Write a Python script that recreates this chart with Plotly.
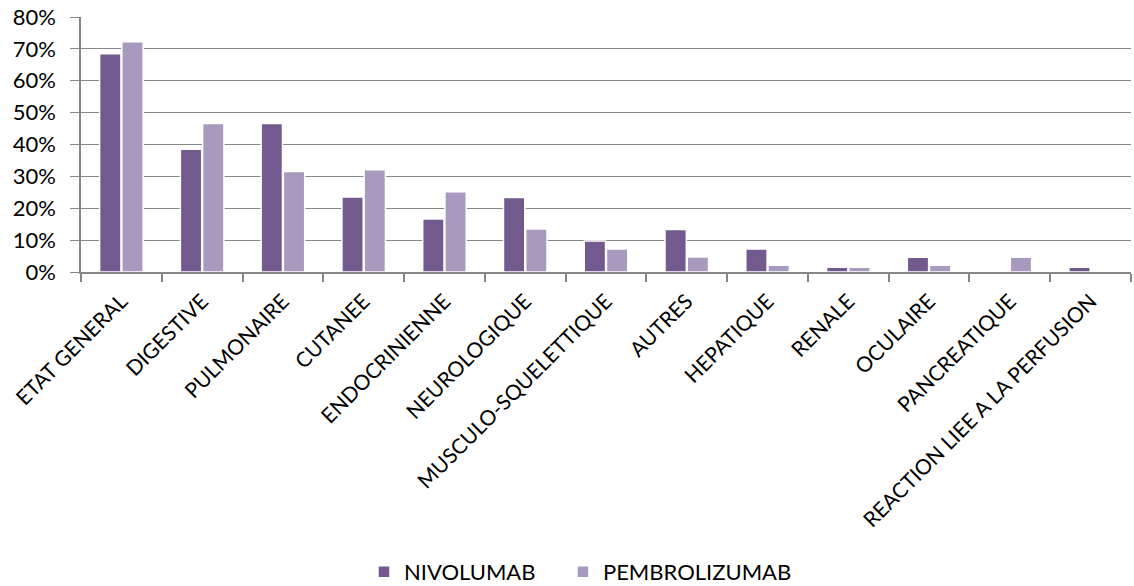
import plotly.graph_objects as go

categories = ["ETAT GENERAL", "DIGESTIVE", "PULMONAIRE", "CUTANEE", "ENDOCRINIENNE",
              "NEUROLOGIQUE", "MUSCULO-SQUELETTIQUE", "AUTRES", "HEPATIQUE", "RENALE",
              "OCULAIRE", "PANCREATIQUE", "REACTION LIEE A LA PERFUSION"]
nivolumab = [0.685, 0.385, 0.466, 0.235, 0.166, 0.234, 0.097, 0.133, 0.072, 0.015, 0.046, 0.0, 0.015]
pembrolizumab = [0.722, 0.466, 0.315, 0.321, 0.252, 0.135, 0.072, 0.047, 0.021, 0.015, 0.021, 0.046, 0.0]
y_ticks = [0, 0.1, 0.2, 0.3, 0.4, 0.5, 0.6, 0.7, 0.8]

FONT = "Lato"
GRID = "#868686"

fig = go.Figure()
fig.add_trace(go.Bar(name="NIVOLUMAB", x=categories, y=nivolumab, legend="legend",
                     marker=dict(color="#725a8f", line=dict(color="white", width=1.5))))
fig.add_trace(go.Bar(name="PEMBROLIZUMAB", x=categories, y=pembrolizumab, legend="legend2",
                     marker=dict(color="#a899be", line=dict(color="white", width=1.5))))

leg_common = dict(orientation="h", xanchor="left", yref="container", y=0.024, yanchor="middle",
                  font=dict(family=FONT, size=22, color="#000000"),
                  bgcolor="rgba(0,0,0,0)")

fig.update_layout(
    width=1134, height=586,
    margin=dict(l=81, r=3, t=17, b=314),
    paper_bgcolor="white", plot_bgcolor="white",
    barmode="group", bargap=0.45, bargroupgap=0.04,
    font=dict(family=FONT, size=21, color="#000000"),
    showlegend=True,
    legend=dict(x=0.2695, **leg_common),
    legend2=dict(x=0.459, **leg_common),
    xaxis=dict(type="category", tickangle=-45, showgrid=False, showline=True, automargin=False,
               linecolor=GRID, linewidth=1.5, ticks="outside", tickson="boundaries",
               ticklen=8, tickcolor=GRID, tickwidth=1.5, ticklabelstandoff=7,
               tickfont=dict(family=FONT, size=21, color="#000000")),
    yaxis=dict(range=[0, 0.8], tickvals=y_ticks, tickformat=".0%", showgrid=True, automargin=False,
               gridcolor=GRID, gridwidth=1.3, showline=True, linecolor=GRID, linewidth=1.5,
               ticks="outside", ticklen=9, tickcolor=GRID, tickwidth=1.3, zeroline=False,
               ticklabelstandoff=10,
               tickfont=dict(family=FONT, size=22, color="#000000")),
)

fig.write_html("out.html", config={"displayModeBar": False},
               post_script="document.body.style.margin='0';document.body.style.overflow='hidden';")
